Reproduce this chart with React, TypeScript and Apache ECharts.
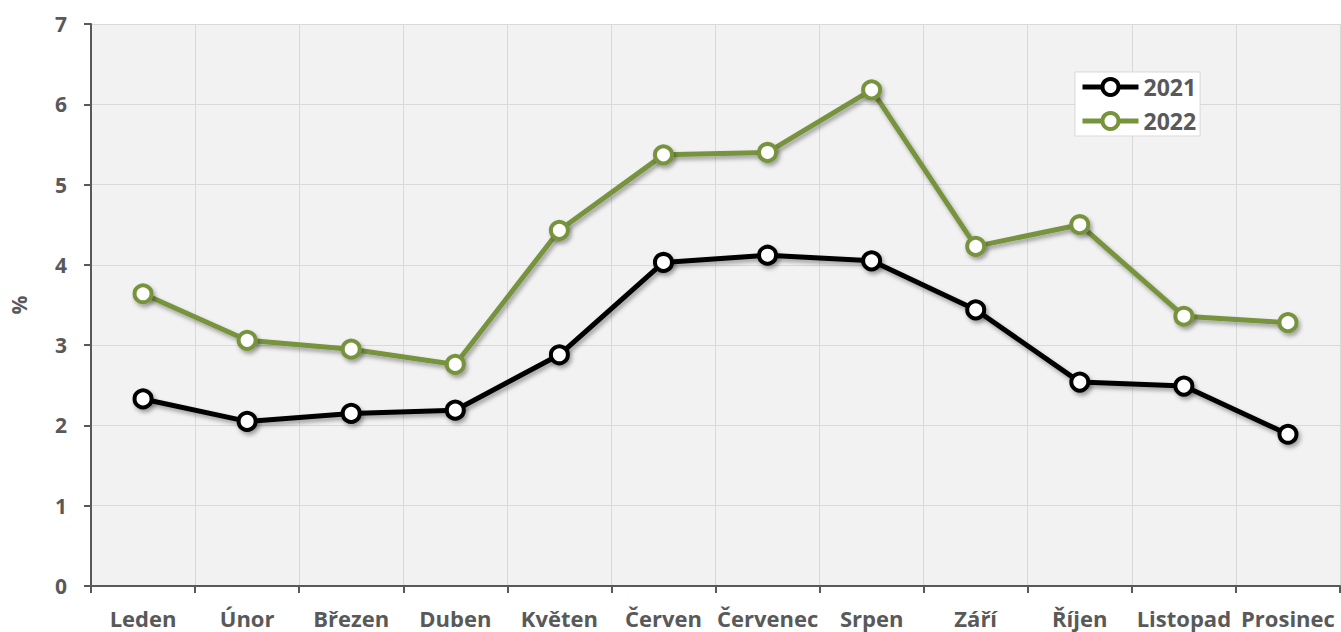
import React, { useEffect, useRef } from "react";
import * as echarts from "echarts";

const months = ["Leden", "Únor", "Březen", "Duben", "Květen", "Červen", "Červenec", "Srpen", "Září", "Říjen", "Listopad", "Prosinec"];
const values2021 = [2.33, 2.05, 2.15, 2.19, 2.88, 4.03, 4.12, 4.05, 3.44, 2.54, 2.49, 1.89];
const values2022 = [3.64, 3.06, 2.95, 2.76, 4.43, 5.37, 5.40, 6.18, 4.23, 4.50, 3.36, 3.28];
const yTicks = { min: 0, max: 7, interval: 1 };

const FONT = "'Open Sans', Lato, sans-serif";
const TXT = "#595959";

function makeSeries(name: string, data: number[], color: string) {
  return {
    name,
    type: "line",
    data,
    symbol: "circle",
    symbolSize: 17,
    showAllSymbol: true,
    lineStyle: {
      color,
      width: 5,
      shadowColor: "rgba(0,0,0,0.35)",
      shadowBlur: 4,
      shadowOffsetX: 2,
      shadowOffsetY: 3,
    },
    itemStyle: {
      color: "#ffffff",
      borderColor: color,
      borderWidth: 4,
      shadowColor: "rgba(0,0,0,0.35)",
      shadowBlur: 4,
      shadowOffsetX: 2,
      shadowOffsetY: 3,
    },
    emphasis: { disabled: true },
  };
}

export default function App() {
  const ref = useRef<HTMLDivElement>(null);
  useEffect(() => {
    if (!ref.current) return;
    const chart = echarts.init(ref.current, null, { renderer: "svg" });
    chart.setOption({
      animation: false,
      backgroundColor: "#ffffff",
      grid: {
        left: 89,
        top: 24,
        right: 1,
        bottom: 46,
        show: true,
        backgroundColor: "#f2f2f2",
        borderWidth: 0,
      },
      legend: {
        orient: "vertical",
        left: 1075,
        top: 72,
        backgroundColor: "#ffffff",
        borderColor: "#d9d9d9",
        borderWidth: 1,
        padding: [2, 4, 2, 5],
        itemWidth: 56,
        itemHeight: 20,
        itemGap: 8,
        lineStyle: { width: 5 },
        itemStyle: { borderWidth: 4 },
        textStyle: { fontFamily: FONT, fontSize: 23, fontWeight: "bold", color: TXT, lineHeight: 26 },
        data: ["2021", "2022"],
      },
      xAxis: {
        type: "category",
        data: months,
        boundaryGap: true,
        axisLine: { lineStyle: { color: TXT, width: 2 } },
        axisTick: { show: true, length: 7, lineStyle: { color: TXT, width: 2 } },
        axisLabel: { fontFamily: FONT, fontSize: 22, fontWeight: "bold", color: TXT, margin: 21, interval: 0 },
        splitLine: { show: true, lineStyle: { color: "#d9d9d9", width: 1 } },
      },
      yAxis: {
        type: "value",
        min: yTicks.min,
        max: yTicks.max,
        interval: yTicks.interval,
        name: "%",
        nameLocation: "middle",
        nameGap: 62,
        nameRotate: 90,
        nameTextStyle: { fontFamily: FONT, fontSize: 21, fontWeight: "bold", color: TXT },
        axisLine: { show: true, lineStyle: { color: TXT, width: 2 } },
        axisTick: { show: true, length: 7, lineStyle: { color: TXT, width: 2 } },
        axisLabel: { fontFamily: FONT, fontSize: 21, fontWeight: "bold", color: TXT, margin: 24 },
        splitLine: { show: true, lineStyle: { color: "#d9d9d9", width: 1 } },
      },
      series: [
        makeSeries("2021", values2021, "#000000"),
        makeSeries("2022", values2022, "#77933c"),
      ],
    });
    return () => chart.dispose();
  }, []);
  return <div ref={ref} style={{ position: "fixed", left: 0, top: 0, width: 1341, height: 632 }} />;
}
